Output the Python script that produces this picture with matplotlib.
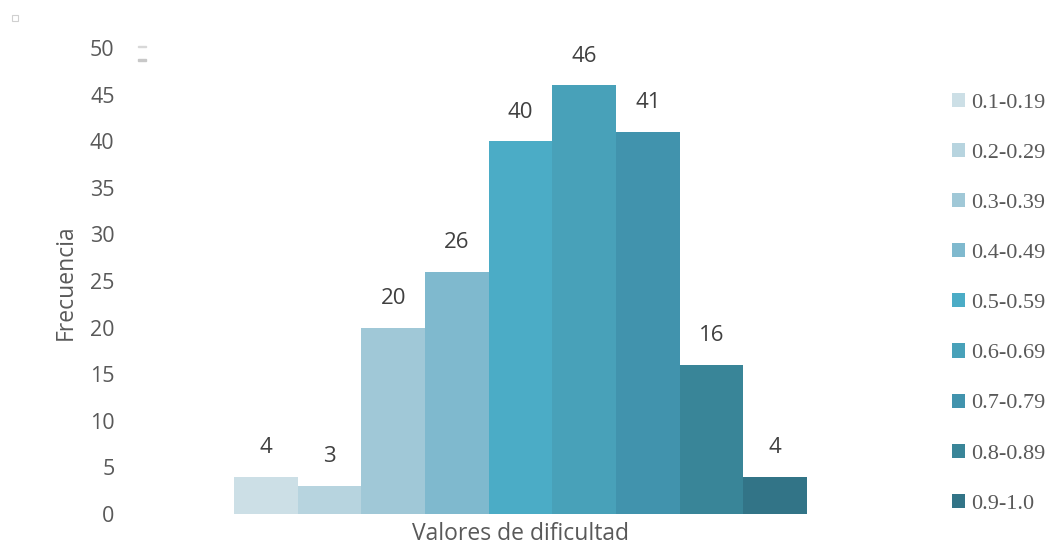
import matplotlib
matplotlib.use("Agg")
import matplotlib.pyplot as plt
from matplotlib.patches import Patch, Rectangle

# frequency of items per difficulty interval
rangos = ["0.1-0.19", "0.2-0.29", "0.3-0.39", "0.4-0.49", "0.5-0.59",
          "0.6-0.69", "0.7-0.79", "0.8-0.89", "0.9-1.0"]
frecuencias = [4, 3, 20, 26, 40, 46, 41, 16, 4]
colores = ["#CCDFE6", "#B7D4DF", "#A0C8D7", "#7FB9CE", "#4BACC6",
           "#48A1B9", "#4193AD", "#398598", "#327487"]

gris = "#595959"
plt.rcParams["font.family"] = ["Open Sans", "DejaVu Sans"]

fig = plt.figure(figsize=(10.56, 5.46), dpi=100)
ax = fig.add_axes([234 / 1056, 32 / 546, 573 / 1056, 466 / 546])

x = list(range(len(frecuencias)))
ax.bar(x, frecuencias, width=1.0, color=colores, linewidth=0)

for xi, f in zip(x, frecuencias):
    ax.annotate(str(f), (xi, f), xytext=(0, 21), textcoords="offset points",
                ha="center", va="center", fontsize=16, color="#404040")

ax.set_xlim(-0.5, 8.5)
ax.set_ylim(0, 50)
ax.set_yticks(range(0, 51, 5))
ax.set_xticks([])
ax.tick_params(axis="y", length=0, pad=86, labelsize=15.5, labelcolor=gris)
for s in ax.spines.values():
    s.set_visible(False)

fig.text(66 / 1056, 1 - 282 / 546, "Frecuencia", rotation=90, ha="center",
         va="center", fontsize=16.5, color=gris)
fig.text(521 / 1056, 1 - 534 / 546, "Valores de dificultad", ha="center",
         va="center", fontsize=16.5, color=gris)

handles = [Patch(facecolor=c, edgecolor="none") for c in colores]
fig.legend(handles, rangos, loc="upper left", bbox_to_anchor=(943 / 1056, 1 - 84 / 546),
           frameon=False, prop={"family": "Liberation Serif", "size": 16},
           labelcolor=gris, handlelength=0.6, handleheight=0.6,
           handletextpad=0.25, labelspacing=1.36, borderaxespad=0)

# small marks near the top of the frame
fig.add_artist(Rectangle((12 / 1056, 1 - 21 / 546), 6 / 1056, 6 / 546,
                         transform=fig.transFigure, facecolor="none",
                         edgecolor="#d0d0d0", linewidth=0.8))
fig.add_artist(Rectangle((138 / 1056, 1 - 47 / 546), 8 / 1056, 1 / 546,
                         transform=fig.transFigure, color="#d8d8d8"))
fig.add_artist(Rectangle((138 / 1056, 1 - 61 / 546), 8 / 1056, 2 / 546,
                         transform=fig.transFigure, color="#c8c8c8"))

fig.savefig("out.png", dpi=100)
